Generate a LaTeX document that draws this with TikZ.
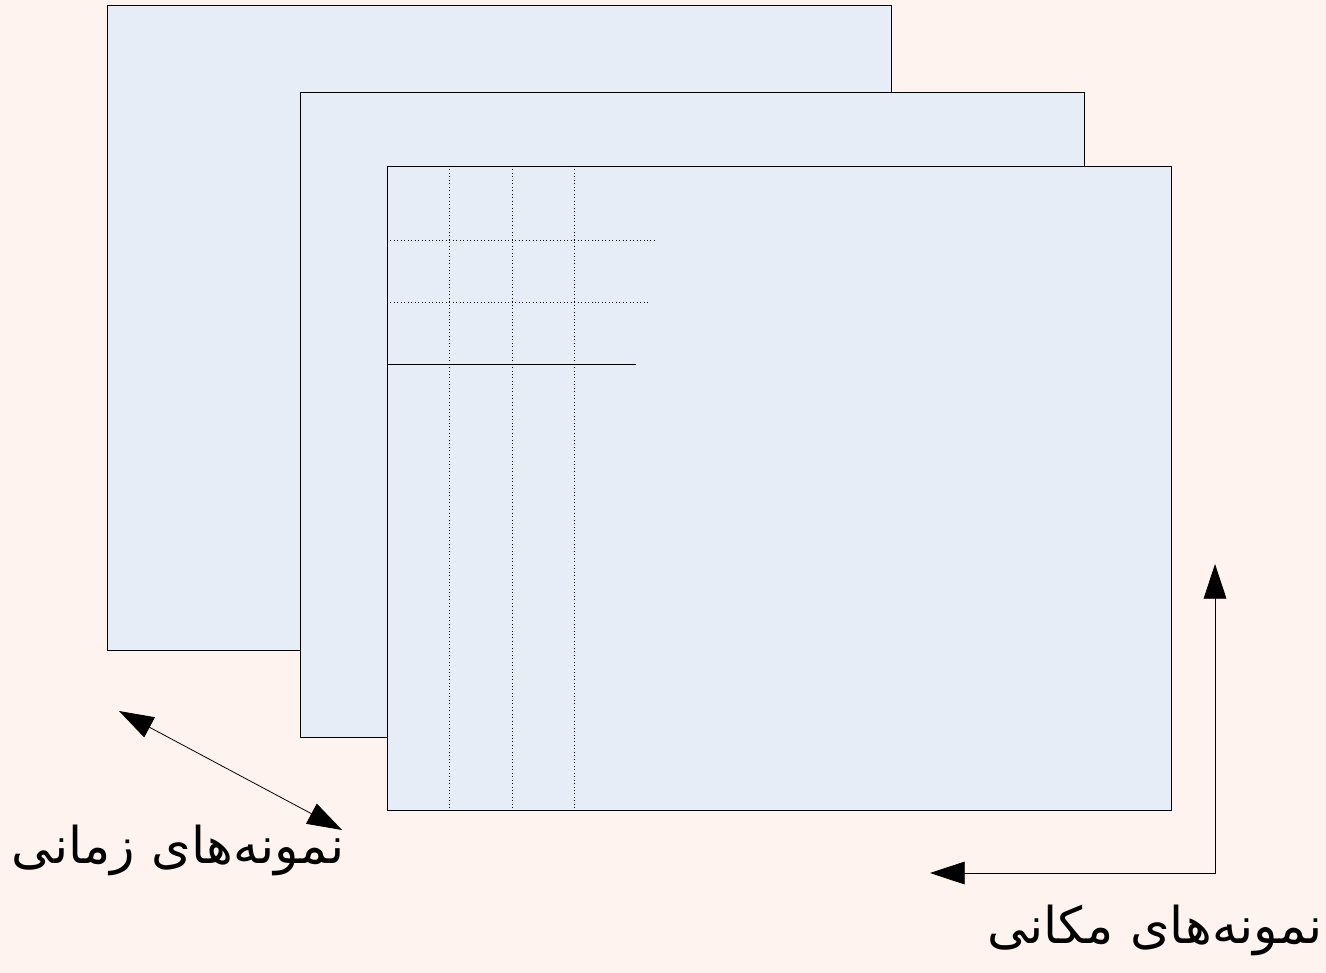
\documentclass[tikz,border=0pt]{standalone}
\usepackage{fontspec}
\usetikzlibrary{arrows.meta}
\TeXXeTstate=1
\newfontfamily\arabicfont[Script=Arabic]{DejaVu Sans}
\definecolor{bgc}{HTML}{FEF3EE}
\definecolor{sheet}{HTML}{E6EDF7}
\tikzset{
  sheetbox/.style={draw=black, fill=sheet, line width=0.6pt},
  gridline/.style={draw=black, dotted, line width=0.6pt},
  bothtip/.style={{Triangle[length=26pt,width=17pt]}-{Triangle[length=26pt,width=17pt]}, line width=0.6pt},
  lbl/.style={font=\arabicfont\fontsize{38}{44}\selectfont, inner sep=0pt}
}
\begin{document}
\begin{tikzpicture}[x=0.75pt,y=-0.75pt]
\fill[bgc] (0,0) rectangle (1326,973);
\useasboundingbox (0,0) rectangle (1326,973);
\path[sheetbox] (107,5) rectangle (891,650);
\path[sheetbox] (300,92) rectangle (1084,737);
\path[sheetbox] (387,166) rectangle (1171,810);
\coordinate (v1t) at (449,166); \coordinate (v1b) at (449,810);
\coordinate (v2t) at (512,166); \coordinate (v2b) at (512,810);
\coordinate (v3t) at (574,166); \coordinate (v3b) at (574,810);
\draw[gridline] (v1t) -- (v1b);
\draw[gridline] (v2t) -- (v2b);
\draw[gridline] (v3t) -- (v3b);
\coordinate (h1a) at (387,240); \coordinate (h1b) at (655,240);
\coordinate (h2a) at (387,302); \coordinate (h2b) at (648,302);
\coordinate (h3a) at (387,364); \coordinate (h3b) at (636,364);
\draw[gridline] (h1a) -- (h1b);
\draw[gridline] (h2a) -- (h2b);
\draw[line width=0.6pt] (h3a) -- (h3b);
% time arrow
\coordinate (ta) at (119,711);
\coordinate (tb) at (342,830);
\draw[bothtip] (ta) -- (tb);
% space arrow
\coordinate (sa) at (930,873);
\coordinate (sc) at (1215,873);
\coordinate (sb) at (1215,564);
\draw[bothtip] (sa) -- (sc) -- (sb);
\node[lbl] (tlabel) at (178,850) {\beginR نمونه‌های زمانی\endR};
\node[lbl] (slabel) at (1155,930) {\beginR نمونه‌های مکانی\endR};
\end{tikzpicture}
\end{document}
